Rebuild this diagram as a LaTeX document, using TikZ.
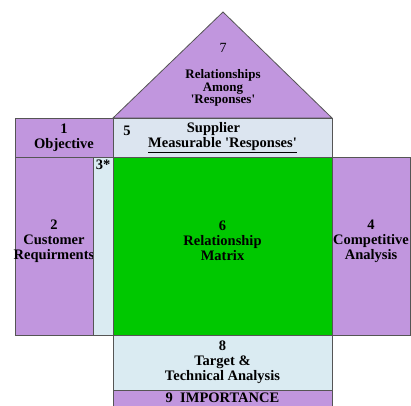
\documentclass[tikz,border=0pt]{standalone}
\usepackage{fontspec}
\setmainfont{Liberation Serif}[Ligatures=TeXOff]
\definecolor{roompurple}{RGB}{193,150,222}
\definecolor{roomblue}{RGB}{218,235,242}
\definecolor{roomgrey}{RGB}{220,229,240}
\definecolor{roomgreen}{RGB}{0,200,0}
\definecolor{roomline}{RGB}{85,85,85}
\tikzset{room/.style={
		rectangle,
		draw=roomline,
		line width=0.8pt,
		inner sep=0pt,
		outer sep=0pt,
		anchor=north west,
		align=center,
		font=\bfseries\fontsize{14.5}{15}\selectfont
		},
	tag/.style={
		inner sep=0pt,
		align=center,
		font=\bfseries\fontsize{14.5}{15}\selectfont
		}}

\begin{document}
\begin{tikzpicture}[x=1pt,y=-1pt]
				\useasboundingbox (0,0) rectangle (411,405);
				\draw[fill=roompurple, draw=roomline, line width=0.8pt] (113,118) -- (223,12) -- (332,118) -- cycle;
				\node[tag, font=\bfseries\fontsize{13}{12.5}\selectfont] (Roof) at (223,75) {{\mdseries\fontsize{14}{12.5}\selectfont 7}\\[14pt]Relationships\\Among\\'Responses'};
				
				\node[room, fill=roompurple, minimum width=98pt, minimum height=39pt] (Objective) at (15,118) {1\\Objective};
				\node[room, fill=roomgrey, minimum width=219pt, minimum height=39pt] (Supplier) at (113,118) {\hspace*{-18pt}Supplier\\\underline{Measurable 'Responses'}};
				\node[tag] (SupplierNo) at (127,131) {5};
				
				\node[room, fill=roompurple, minimum width=78pt, minimum height=178pt, label={[tag, yshift=5pt]center:2\\Customer\\Requirments}] (Customer) at (15,157) {};
				\node[room, fill=roomblue, minimum width=20pt, minimum height=178pt, label={[tag, anchor=north, yshift=-3pt]north:3*}] (Planning) at (93,157) {};
				\node[room, fill=roomgreen, minimum width=219pt, minimum height=178pt, label={[tag, yshift=5pt]center:6\\Relationship\\Matrix}] (Matrix) at (113,157) {};
				\node[room, fill=roompurple, minimum width=78pt, minimum height=178pt, label={[tag, yshift=5pt]center:4\\Competitive\\Analysis}] (Competitive) at (332,157) {};
				
				\node[room, fill=roomblue, minimum width=219pt, minimum height=55pt] (Target) at (113,335) {8\\Target \&\\Technical Analysis};
				\node[room, fill=roompurple, minimum width=219pt, minimum height=16pt] (Importance) at (113,390) {9\enspace IMPORTANCE};
			\end{tikzpicture}
\end{document}
